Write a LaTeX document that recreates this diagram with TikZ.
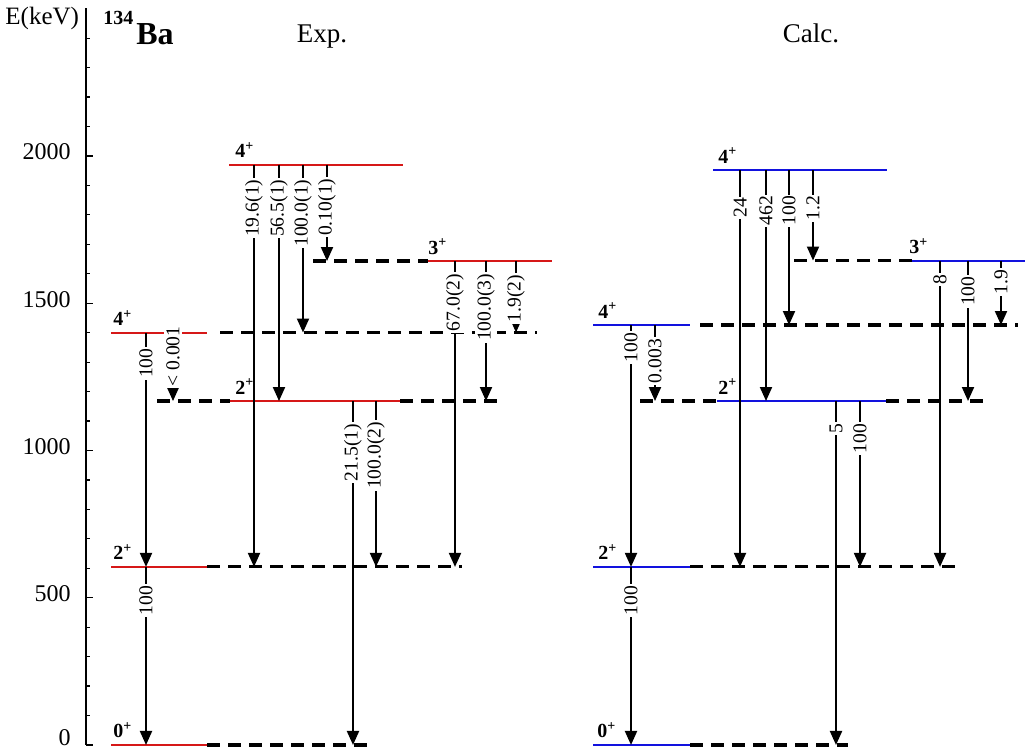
\documentclass[tikz,border=0pt]{standalone}
\usepackage{fontspec}
\setmainfont{Liberation Serif}
\usetikzlibrary{arrows.meta}
\definecolor{expred}{RGB}{214,24,24}
\definecolor{calcblue}{RGB}{18,18,222}
\tikzset{
  >={Triangle[length=7pt,width=6pt]},
  stateline/.style={draw=#1,line width=1pt},
  stateline/.default=expred,
  ext/.style={draw=black,line width=1.6pt,dash pattern=on 6.5pt off 4pt},
  trans/.style={->,line width=1pt},
  intens/.style={fill=white,inner xsep=0.8pt,inner ysep=1pt,rotate=90,anchor=east,
    font=\fontsize{9.8}{10}\selectfont},
  spin/.style={anchor=base west,inner sep=0pt,font=\fontsize{10}{11}\selectfont\bfseries},
  axtick/.style={line width=0.6pt},
  axnum/.style={anchor=east,inner sep=0pt,font=\fontsize{12}{13}\selectfont},
  head/.style={anchor=base,inner sep=0pt,font=\fontsize{13.5}{15}\selectfont},
}
\begin{document}
\begin{tikzpicture}[x=0.5pt,y=0.14725pt]
  \useasboundingbox (0,-20.4) rectangle (1026,2529.7);
  % energy axis
  \draw[line width=1pt] (86,0) coordinate (ax0) -- (86,2502) coordinate (ax1);
  \foreach \e in {0,100,...,2400} \draw[axtick] (86,\e) -- (90,\e);
  \foreach \e in {0,500,...,2000} {
    \draw[axtick] (86,\e) -- (93,\e);
    \node[axnum,yshift={2pt+1.8pt*(\e==0)}] (n\e) at (71,\e) {\e};
  }
  \node[anchor=base west,inner sep=0pt,font=\fontsize{12.5}{13}\selectfont] (unit) at (5,2447) {E(keV)};
  \node[anchor=base west,inner sep=0pt,font=\fontsize{10}{10}\selectfont\bfseries] (mass) at (103,2447) {134};
  \node[anchor=base west,inner sep=0pt,font=\fontsize{16}{17}\selectfont\bfseries] (elem) at (136,2380) {Ba};
  \node[head] (exp) at (322,2384) {Exp.};
  \node[head] (calc) at (811,2384) {Calc.};
  % levels
  \foreach \n/\e in {exp0/0,exp2a/604.7,exp2b/1167.9,exp4a/1400.6,exp3/1643.3,exp4b/1970.5,
      th0/0,th2a/604.7,th2b/1168,th4a/1426,th3/1645,th4b/1952}
    \coordinate (\n) at (0,\e);
  \foreach \n/\p/\q in {exp0/207/367,exp2a/207/462,exp4a/220/537,exp2b/157/230,exp2b/400/498,
      exp3/313/428,th0/690/848,th2a/690/955,th4a/700/1018,th2b/640/717,th2b/886/983,th3/794/912}
    \draw[ext] (\p,0 |- \n) -- (\q,0 |- \n);
  \foreach \n/\p/\q/\col/\sx/\jp in {exp0/111/207/expred/113/0,exp2a/111/207/expred/113/2,
      exp4a/111/207/expred/113/4,exp2b/230/400/expred/235/2,exp3/428/552/expred/428/3,
      exp4b/229/403/expred/235/4,th0/593/690/calcblue/597/0,th2a/593/690/calcblue/598/2,
      th4a/593/690/calcblue/598/4,th2b/717/886/calcblue/718/2,th3/912/1025/calcblue/909/3,
      th4b/713/887/calcblue/718/4} {
    \draw[stateline=\col] (\p,0 |- \n) -- (\q,0 |- \n);
    \node[spin,yshift=3.5pt] (j-\n) at (\sx,0 |- \n) {\jp\textsuperscript{+}};
  }
  % transitions
  \foreach \x/\src/\dst/\lab/\off [count=\i] in {
      254/exp4b/exp2a/19.6(1)/13, 279/exp4b/exp2b/56.5(1)/13, 303/exp4b/exp4a/100.0(1)/13,
      327/exp4b/exp3/0.10(1)/12, 455/exp3/exp2a/67.0(2)/11, 486/exp3/exp2b/100.0(3)/11,
      516/exp3/exp4a/1.9(2)/12, 146/exp4a/exp2a/100/14, 173/exp4a/exp2b/{< 0.001}/-8,
      353/exp2b/exp0/21.5(1)/21, 376/exp2b/exp2a/100.0(2)/19, 146/exp2a/exp0/100/17,
      740/th4b/th2a/24/26, 766/th4b/th2b/462/24, 789/th4b/th4a/100/24, 813/th4b/th3/1.2/24,
      940/th3/th2a/8/12, 968/th3/th2b/100/14, 1001/th3/th4a/1.9/7,
      631/th4a/th2a/100/6, 655/th4a/th2b/0.003/12,
      836/th2b/th0/5/21, 860/th2b/th2a/100/21, 631/th2a/th0/100/17} {
    \draw[trans] (\x,0 |- \src) -- (\x,0 |- \dst);
    \node[yshift={-0.5pt*(\off)},intens] (g\i) at (\x,0 |- \src) {\lab};
  }
\end{tikzpicture}
\end{document}
